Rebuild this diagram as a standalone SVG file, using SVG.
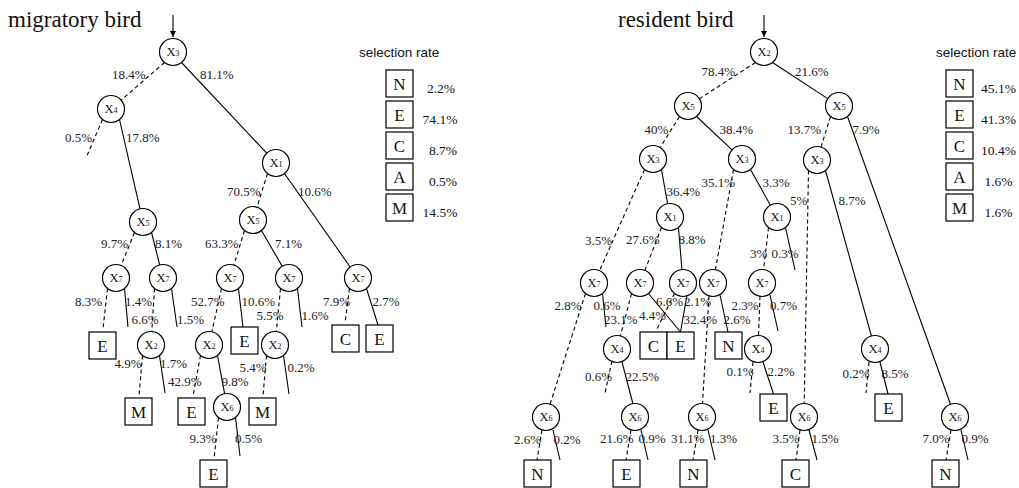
<svg xmlns="http://www.w3.org/2000/svg" width="1019" height="488" viewBox="0 0 1019 488">
<style>
text{font-family:"Liberation Serif","Times New Roman",serif;fill:#111}
.n circle{fill:#fff;stroke:#000;stroke-width:1.2}
.n text{font-size:12.5px;text-anchor:middle}
.sub{font-size:8px}
.b rect{fill:#fff;stroke:#000;stroke-width:1.2}
.b text{font-size:17px;text-anchor:middle}
.c path{stroke:#000;stroke-width:1.1;fill:none}
.c path.d{stroke-dasharray:4 3}
.lbl text{font-size:13px;fill:#222}
.title{font-size:23px}
.legt{font-family:"Liberation Sans",Arial,sans-serif;font-size:13.5px}
.legv text{font-size:13.5px;text-anchor:middle}
</style>
<defs>
<marker id="ah" markerWidth="8" markerHeight="8" refX="6" refY="4" orient="auto" markerUnits="userSpaceOnUse">
<path d="M0,1 L6,4 L0,7 Z" fill="#000"/>
</marker>
</defs>
<rect width="1019" height="488" fill="#fff"/>
<text class="title" x="8" y="27">migratory bird</text>
<text class="title" x="618" y="27">resident bird</text>

<g id="connectors" class="c">
<path d="M173 15 L173 37" marker-end="url(#ah)"/>
<path class="d" d="M164.5 62.5 L121.2 100.1"/>
<path d="M181.5 62.5 L266.8 153.2"/>
<path class="d" d="M102.5 119.5 L86 158"/>
<path d="M119.5 119.5 L140 208.9"/>
<path class="d" d="M267.5 173.5 L257 207.1"/>
<path d="M284.5 173.5 L350.2 267"/>
<path class="d" d="M134.5 232.5 L121.1 265.5"/>
<path d="M151.5 232.5 L159.7 264.9"/>
<path class="d" d="M244.5 230.5 L233.9 265.1"/>
<path d="M261.5 230.5 L282.2 266.3"/>
<path class="d" d="M107.5 288.5 L103 329"/>
<path d="M124.5 288.5 L128 327"/>
<path class="d" d="M154.5 288.5 L151.8 331.5"/>
<path d="M171.5 288.5 L177 327"/>
<path class="d" d="M221.5 288.5 L211.9 331.8"/>
<path d="M238.5 288.5 L243 327"/>
<path class="d" d="M280.5 288.5 L276.3 331.6"/>
<path d="M297.5 288.5 L302 327"/>
<path class="d" d="M349.5 288.5 L345 323"/>
<path d="M366.5 288.5 L378 325"/>
<path class="d" d="M142.5 355.5 L139 396"/>
<path d="M159.5 355.5 L165 393"/>
<path class="d" d="M200.5 355.5 L193 396"/>
<path d="M217.5 355.5 L224.6 393.7"/>
<path class="d" d="M266.5 355.5 L263 396"/>
<path d="M283.5 355.5 L289 394"/>
<path class="d" d="M218.5 417.5 L214 459"/>
<path d="M235.5 417.5 L240 456"/>

<path d="M764 15 L764 37" marker-end="url(#ah)"/>
<path class="d" d="M755.5 62.5 L699.4 98.7"/>
<path d="M772.5 62.5 L827.7 98.6"/>
<path class="d" d="M679.5 116.5 L660.1 147.6"/>
<path d="M696.5 116.5 L732.1 149.8"/>
<path class="d" d="M830.5 116.5 L821 147.1"/>
<path d="M847.5 116.5 L950.5 404.3"/>
<path class="d" d="M644.5 169.5 L599.5 270.7"/>
<path d="M661.5 169.5 L667.6 203.7"/>
<path class="d" d="M733.5 169.5 L715.4 269.7"/>
<path d="M750.5 169.5 L770.4 205.2"/>
<path class="d" d="M808.5 170.5 L804.2 403.5"/>
<path d="M825.5 170.5 L871.4 336"/>
<path class="d" d="M661.5 227.5 L644.9 270.4"/>
<path d="M678.5 227.5 L681.9 269.5"/>
<path class="d" d="M768.5 227.5 L763.6 269.6"/>
<path d="M785.5 227.5 L795 270"/>
<path class="d" d="M585.5 293.5 L550.1 404.1"/>
<path d="M602.5 293.5 L606 327"/>
<path class="d" d="M631.5 293.5 L620.4 336"/>
<path d="M648.5 293.5 L680.5 332"/>
<path class="d" d="M674.5 293.5 L656 331"/>
<path d="M687 295 L680.5 332"/>
<path class="d" d="M709 296 L702.5 403.5"/>
<path d="M720 295 L728 332"/>
<path class="d" d="M760 296 L758.5 335.5"/>
<path d="M770 295 L778 331"/>
<path class="d" d="M612 361 L605 393"/>
<path d="M622 362 L633 404"/>
<path class="d" d="M753 362 L750 393"/>
<path d="M763 362 L773.5 394"/>
<path class="d" d="M869 362 L866 393"/>
<path d="M880 362 L888 394"/>
<path class="d" d="M542 430 L537 460"/>
<path d="M553 430 L560 460"/>
<path class="d" d="M631 430 L626 460"/>
<path d="M641 430 L648 460"/>
<path class="d" d="M698 430 L693 460"/>
<path d="M708 430 L715 460"/>
<path class="d" d="M800 430 L796 460"/>
<path d="M809 430 L817 460"/>
<path class="d" d="M951 430 L946 460"/>
<path d="M961 430 L968 460"/>
</g>

<!-- left tree nodes -->
<g id="m_x3" class="n" transform="translate(173,52)"><circle r="13.5"/><text y="4">X<tspan class="sub">3</tspan></text></g>
<g id="m_x4" class="n" transform="translate(111,109)"><circle r="13.5"/><text y="4">X<tspan class="sub">4</tspan></text></g>
<g id="m_x1" class="n" transform="translate(276,163)"><circle r="13.5"/><text y="4">X<tspan class="sub">1</tspan></text></g>
<g id="m_x5a" class="n" transform="translate(143,222)"><circle r="13.5"/><text y="4">X<tspan class="sub">5</tspan></text></g>
<g id="m_x5b" class="n" transform="translate(253,220)"><circle r="13.5"/><text y="4">X<tspan class="sub">5</tspan></text></g>
<g id="m_x7a" class="n" transform="translate(116,278)"><circle r="13.5"/><text y="4">X<tspan class="sub">7</tspan></text></g>
<g id="m_x7b" class="n" transform="translate(163,278)"><circle r="13.5"/><text y="4">X<tspan class="sub">7</tspan></text></g>
<g id="m_x7c" class="n" transform="translate(230,278)"><circle r="13.5"/><text y="4">X<tspan class="sub">7</tspan></text></g>
<g id="m_x7d" class="n" transform="translate(289,278)"><circle r="13.5"/><text y="4">X<tspan class="sub">7</tspan></text></g>
<g id="m_x7e" class="n" transform="translate(358,278)"><circle r="13.5"/><text y="4">X<tspan class="sub">7</tspan></text></g>
<g id="m_x2a" class="n" transform="translate(151,345)"><circle r="13.5"/><text y="4">X<tspan class="sub">2</tspan></text></g>
<g id="m_x2b" class="n" transform="translate(209,345)"><circle r="13.5"/><text y="4">X<tspan class="sub">2</tspan></text></g>
<g id="m_x2c" class="n" transform="translate(275,345)"><circle r="13.5"/><text y="4">X<tspan class="sub">2</tspan></text></g>
<g id="m_x6" class="n" transform="translate(227,407)"><circle r="13.5"/><text y="4">X<tspan class="sub">6</tspan></text></g>

<g id="m_E1" class="b" transform="translate(89,332)"><rect width="27" height="27"/><text x="13.5" y="19.5">E</text></g>
<g id="m_M1" class="b" transform="translate(125,398)"><rect width="27" height="27"/><text x="13.5" y="19.5">M</text></g>
<g id="m_E2" class="b" transform="translate(231,327)"><rect width="27" height="27"/><text x="13.5" y="19.5">E</text></g>
<g id="m_E3" class="b" transform="translate(178,398)"><rect width="27" height="27"/><text x="13.5" y="19.5">E</text></g>
<g id="m_M2" class="b" transform="translate(249,398)"><rect width="27" height="27"/><text x="13.5" y="19.5">M</text></g>
<g id="m_E4" class="b" transform="translate(200,460)"><rect width="27" height="27"/><text x="13.5" y="19.5">E</text></g>
<g id="m_C1" class="b" transform="translate(332,325)"><rect width="27" height="27"/><text x="13.5" y="19.5">C</text></g>
<g id="m_E5" class="b" transform="translate(366,325)"><rect width="27" height="27"/><text x="13.5" y="19.5">E</text></g>

<!-- right tree nodes -->
<g id="r_x2" class="n" transform="translate(764,52)"><circle r="13.5"/><text y="4">X<tspan class="sub">2</tspan></text></g>
<g id="r_x5a" class="n" transform="translate(688,106)"><circle r="13.5"/><text y="4">X<tspan class="sub">5</tspan></text></g>
<g id="r_x5b" class="n" transform="translate(839,106)"><circle r="13.5"/><text y="4">X<tspan class="sub">5</tspan></text></g>
<g id="r_x3a" class="n" transform="translate(653,159)"><circle r="13.5"/><text y="4">X<tspan class="sub">3</tspan></text></g>
<g id="r_x3b" class="n" transform="translate(742,159)"><circle r="13.5"/><text y="4">X<tspan class="sub">3</tspan></text></g>
<g id="r_x3c" class="n" transform="translate(817,160)"><circle r="13.5"/><text y="4">X<tspan class="sub">3</tspan></text></g>
<g id="r_x1a" class="n" transform="translate(670,217)"><circle r="13.5"/><text y="4">X<tspan class="sub">1</tspan></text></g>
<g id="r_x1b" class="n" transform="translate(777,217)"><circle r="13.5"/><text y="4">X<tspan class="sub">1</tspan></text></g>
<g id="r_x7a" class="n" transform="translate(594,283)"><circle r="13.5"/><text y="4">X<tspan class="sub">7</tspan></text></g>
<g id="r_x7b" class="n" transform="translate(640,283)"><circle r="13.5"/><text y="4">X<tspan class="sub">7</tspan></text></g>
<g id="r_x7c" class="n" transform="translate(683,283)"><circle r="13.5"/><text y="4">X<tspan class="sub">7</tspan></text></g>
<g id="r_x7d" class="n" transform="translate(713,283)"><circle r="13.5"/><text y="4">X<tspan class="sub">7</tspan></text></g>
<g id="r_x7e" class="n" transform="translate(762,283)"><circle r="13.5"/><text y="4">X<tspan class="sub">7</tspan></text></g>
<g id="r_x4a" class="n" transform="translate(617,349)"><circle r="13.5"/><text y="4">X<tspan class="sub">4</tspan></text></g>
<g id="r_x4b" class="n" transform="translate(758,349)"><circle r="13.5"/><text y="4">X<tspan class="sub">4</tspan></text></g>
<g id="r_x4c" class="n" transform="translate(875,349)"><circle r="13.5"/><text y="4">X<tspan class="sub">4</tspan></text></g>
<g id="r_x6a" class="n" transform="translate(546,417)"><circle r="13.5"/><text y="4">X<tspan class="sub">6</tspan></text></g>
<g id="r_x6b" class="n" transform="translate(635,417)"><circle r="13.5"/><text y="4">X<tspan class="sub">6</tspan></text></g>
<g id="r_x6c" class="n" transform="translate(702,417)"><circle r="13.5"/><text y="4">X<tspan class="sub">6</tspan></text></g>
<g id="r_x6d" class="n" transform="translate(804,417)"><circle r="13.5"/><text y="4">X<tspan class="sub">6</tspan></text></g>
<g id="r_x6e" class="n" transform="translate(955,417)"><circle r="13.5"/><text y="4">X<tspan class="sub">6</tspan></text></g>

<g id="r_C1" class="b" transform="translate(640,332)"><rect width="27" height="27"/><text x="13.5" y="19.5">C</text></g>
<g id="r_E1" class="b" transform="translate(667,332)"><rect width="27" height="27"/><text x="13.5" y="19.5">E</text></g>
<g id="r_N1" class="b" transform="translate(715,332)"><rect width="27" height="27"/><text x="13.5" y="19.5">N</text></g>
<g id="r_E2" class="b" transform="translate(760,394)"><rect width="27" height="27"/><text x="13.5" y="19.5">E</text></g>
<g id="r_E3" class="b" transform="translate(875,394)"><rect width="27" height="27"/><text x="13.5" y="19.5">E</text></g>
<g id="r_N2" class="b" transform="translate(524,460)"><rect width="27" height="27"/><text x="13.5" y="19.5">N</text></g>
<g id="r_E4" class="b" transform="translate(613,460)"><rect width="27" height="27"/><text x="13.5" y="19.5">E</text></g>
<g id="r_N3" class="b" transform="translate(680,460)"><rect width="27" height="27"/><text x="13.5" y="19.5">N</text></g>
<g id="r_C2" class="b" transform="translate(782,460)"><rect width="27" height="27"/><text x="13.5" y="19.5">C</text></g>
<g id="r_N4" class="b" transform="translate(932,460)"><rect width="27" height="27"/><text x="13.5" y="19.5">N</text></g>

<!-- edge labels -->
<g id="labels" class="lbl">
<text x="112" y="79">18.4%</text>
<text x="200" y="79">81.1%</text>
<text x="65" y="142">0.5%</text>
<text x="126" y="142">17.8%</text>
<text x="101" y="248">9.7%</text>
<text x="155" y="248">8.1%</text>
<text x="227" y="196">70.5%</text>
<text x="298" y="196">10.6%</text>
<text x="205" y="248">63.3%</text>
<text x="275" y="248">7.1%</text>
<text x="75" y="306">8.3%</text>
<text x="125" y="306">1.4%</text>
<text x="191" y="306">52.7%</text>
<text x="241.5" y="306">10.6%</text>
<text x="323" y="306">7.9%</text>
<text x="372.5" y="306">2.7%</text>
<text x="131.5" y="323.5">6.6%</text>
<text x="177" y="323.5">1.5%</text>
<text x="256.5" y="320">5.5%</text>
<text x="301.5" y="320">1.6%</text>
<text x="114.5" y="368">4.9%</text>
<text x="160" y="368">1.7%</text>
<text x="168" y="386">42.9%</text>
<text x="221.5" y="386">9.8%</text>
<text x="239.5" y="372">5.4%</text>
<text x="287.5" y="372">0.2%</text>
<text x="189.5" y="443">9.3%</text>
<text x="235" y="443">0.5%</text>

<text x="701.5" y="76">78.4%</text>
<text x="795" y="76">21.6%</text>
<text x="644.5" y="133.5">40%</text>
<text x="719.5" y="133.5">38.4%</text>
<text x="787.5" y="133.5">13.7%</text>
<text x="852.5" y="133.5">7.9%</text>
<text x="701.5" y="187">35.1%</text>
<text x="762.5" y="187">3.3%</text>
<text x="666.5" y="196">36.4%</text>
<text x="790" y="204.5">5%</text>
<text x="838.5" y="204.5">8.7%</text>
<text x="585" y="244.5">3.5%</text>
<text x="626" y="243.5">27.6%</text>
<text x="678.5" y="243.5">8.8%</text>
<text x="750" y="258">3%</text>
<text x="771.5" y="258">0.3%</text>
<text x="554.5" y="310">2.8%</text>
<text x="593.5" y="310">0.6%</text>
<text x="656" y="306">6.6%</text>
<text x="684" y="306">2.1%</text>
<text x="731.5" y="310">2.3%</text>
<text x="770" y="310">0.7%</text>
<text x="604" y="324">23.1%</text>
<text x="639" y="319.5">4.4%</text>
<text x="683.5" y="323.5">32.4%</text>
<text x="723.5" y="323.5">2.6%</text>
<text x="585" y="381">0.6%</text>
<text x="625.5" y="381">22.5%</text>
<text x="726.5" y="376">0.1%</text>
<text x="767.5" y="376">2.2%</text>
<text x="842.5" y="378">0.2%</text>
<text x="881.5" y="378">8.5%</text>
<text x="514" y="444">2.6%</text>
<text x="553.5" y="444">0.2%</text>
<text x="600" y="443">21.6%</text>
<text x="638.5" y="443">0.9%</text>
<text x="671" y="443">31.1%</text>
<text x="710" y="443">1.3%</text>
<text x="772.5" y="443">3.5%</text>
<text x="811.5" y="443">1.5%</text>
<text x="922.5" y="443">7.0%</text>
<text x="961.5" y="443">0.9%</text>
</g>

<!-- legends -->
<g id="legend_migratory">
<text class="legt" x="359" y="57">selection rate</text>
<g class="b" transform="translate(386,70)"><rect width="27" height="27"/><text x="13.5" y="19.5">N</text></g>
<g class="b" transform="translate(386,101)"><rect width="27" height="27"/><text x="13.5" y="19.5">E</text></g>
<g class="b" transform="translate(386,132)"><rect width="27" height="27"/><text x="13.5" y="19.5">C</text></g>
<g class="b" transform="translate(386,163)"><rect width="27" height="27"/><text x="13.5" y="19.5">A</text></g>
<g class="b" transform="translate(386,194)"><rect width="27" height="27"/><text x="13.5" y="19.5">M</text></g>
<g class="legv">
<text x="441" y="93">2.2%</text>
<text x="440" y="124">74.1%</text>
<text x="443" y="155">8.7%</text>
<text x="443" y="186">0.5%</text>
<text x="440" y="217">14.5%</text>
</g>
</g>
<g id="legend_resident">
<text class="legt" x="936" y="57">selection rate</text>
<g class="b" transform="translate(946,70)"><rect width="27" height="27"/><text x="13.5" y="19.5">N</text></g>
<g class="b" transform="translate(946,101)"><rect width="27" height="27"/><text x="13.5" y="19.5">E</text></g>
<g class="b" transform="translate(946,132)"><rect width="27" height="27"/><text x="13.5" y="19.5">C</text></g>
<g class="b" transform="translate(946,163)"><rect width="27" height="27"/><text x="13.5" y="19.5">A</text></g>
<g class="b" transform="translate(946,194)"><rect width="27" height="27"/><text x="13.5" y="19.5">M</text></g>
<g class="legv">
<text x="998.5" y="93">45.1%</text>
<text x="998.5" y="124">41.3%</text>
<text x="998.5" y="155">10.4%</text>
<text x="998.5" y="186">1.6%</text>
<text x="998.5" y="217">1.6%</text>
</g>
</g>
</svg>
